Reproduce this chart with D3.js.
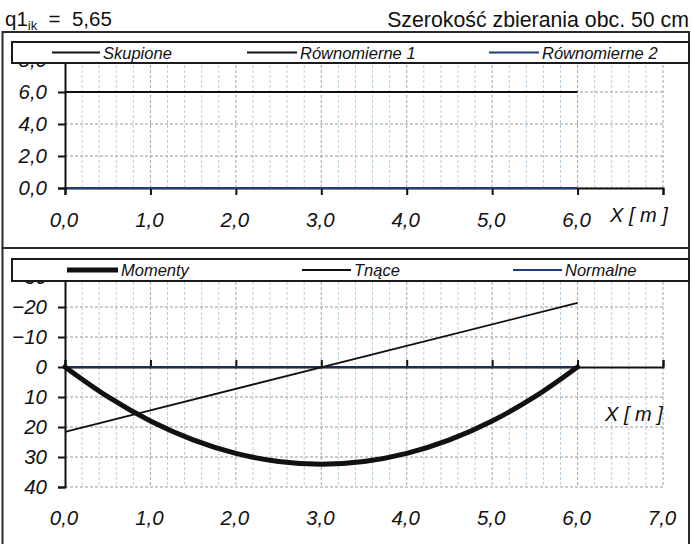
<!DOCTYPE html>
<html>
<head>
<meta charset="utf-8">
<script src="https://cdn.jsdelivr.net/npm/d3@7"></script>
<style>
  html, body { margin: 0; padding: 0; background: #fff; }
  svg { display: block; font-family: "Liberation Sans", Arial, sans-serif; }
</style>
</head>
<body>
<svg id="chart" width="692" height="544"></svg>
<script>
// ---------- DATA ----------
const headerLeftMain = "q1";
const headerLeftSub = "ik";
const headerLeftValue = " = 5,65";
const headerRight = "Szerokość zbierania obc. 50 cm";

const xTickValues = [0, 1, 2, 3, 4, 5, 6, 7];
const xDomain = [0, 7];

// top chart: loads
const loadSeriesNames = ["Skupione", "Równomierne 1", "Równomierne 2"];
const loadX = [0, 6];
const skupione = [0, 0];
const rownomierne1 = [6.0, 6.0];
const rownomierne2 = [0, 0];
const topYTicks = [0, 2, 4, 6, 8];
const topYDomain = [0, 8];

// bottom chart: internal forces
const forceSeriesNames = ["Momenty", "Tnące", "Normalne"];
const beamX = [0, 0.5, 1, 1.5, 2, 2.5, 3, 3.5, 4, 4.5, 5, 5.5, 6];
const momenty = [0, 9.9, 18.0, 24.3, 28.8, 31.5, 32.4, 31.5, 28.8, 24.3, 18.0, 9.9, 0];
const tnaceX = [0, 6];
const tnace = [21.6, -21.4];
const normalneX = [0, 6];
const normalne = [0, 0];
const bottomYTicks = [-30, -20, -10, 0, 10, 20, 30, 40];
const bottomYDomain = [-30, 40];

const axisTitle = "X [ m ]";

// ---------- SETUP ----------
const svg = d3.select("#chart");
const plLocale = d3.formatLocale({decimal: ",", thousands: " ", grouping: [3], currency: ["", " zł"]});
const fmt1 = plLocale.format(".1f");
const fmt0 = plLocale.format("d");
const TICK_FS = 20.5;

const x = d3.scaleLinear().domain(xDomain).range([65, 663]);
const yTop = d3.scaleLinear().domain(topYDomain).range([188, 60]);
const yBot = d3.scaleLinear().domain(bottomYDomain).range([277, 487]);

const minorX = d3.range(0, 7.0001, 0.2).map(v => +v.toFixed(1));

// ---------- HEADER ----------
const hl = svg.append("text").attr("x", 5).attr("y", 26).attr("font-size", 20.5).attr("fill", "#111");
hl.append("tspan").text(headerLeftMain);
hl.append("tspan").attr("font-size", 13).attr("dy", 4).text(headerLeftSub);
hl.append("tspan").attr("dy", -4).attr("xml:space", "preserve").text(headerLeftValue.replace(" = ", "  =  "));
svg.append("text").attr("x", 689).attr("y", 27).attr("text-anchor", "end")
  .attr("font-size", 21.3).attr("fill", "#111").text(headerRight);

// ---------- FRAMES ----------
svg.append("rect").attr("x", 2.5).attr("y", 32).attr("width", 686.5).attr("height", 216)
  .attr("fill", "none").attr("stroke", "#2a2a2a").attr("stroke-width", 2);
svg.append("rect").attr("x", 2.5).attr("y", 248).attr("width", 686.5).attr("height", 320)
  .attr("fill", "none").attr("stroke", "#2a2a2a").attr("stroke-width", 2);

// ---------- helpers ----------
function grid(g, yScale, yTicks, yTopPx, yBotPx) {
  g.selectAll(".vmin").data(minorX.filter(v => v > 0)).join("line")
    .attr("x1", d => x(d)).attr("x2", d => x(d))
    .attr("y1", yTopPx).attr("y2", yBotPx)
    .attr("stroke", d => Number.isInteger(d) ? "#9aa8b2" : "#b8d0e0")
    .attr("stroke-width", 1).attr("stroke-dasharray", "3,2");
  g.selectAll(".hmaj").data(yTicks).join("line")
    .attr("x1", x(0)).attr("x2", x(7))
    .attr("y1", d => yScale(d)).attr("y2", d => yScale(d))
    .attr("stroke", "#999").attr("stroke-width", 1).attr("stroke-dasharray", "3,2");
}

function yAxis(g, yScale, yTicks, f) {
  const ax = d3.axisLeft(yScale).tickValues(yTicks).tickFormat(f).tickSize(7).tickPadding(11);
  g.attr("transform", `translate(${x(0)},0)`).call(ax);
  g.select(".domain").attr("stroke", "#111").attr("stroke-width", 2);
  g.selectAll(".tick line").attr("stroke", "#111").attr("stroke-width", 2);
  g.selectAll(".tick text").attr("font-size", TICK_FS).attr("font-style", "italic")
    .attr("font-family", "Liberation Sans, Arial, sans-serif").attr("fill", "#111");
}

// ---------- TOP CHART ----------
const topG = svg.append("g");
grid(topG, yTop, topYTicks, yTop(8), yTop(0));

const lineTop = (xs, ys) => d3.line().x((d, i) => x(xs[i])).y(d => yTop(d))(ys);

topG.append("path").attr("d", lineTop(loadX, rownomierne1))
  .attr("fill", "none").attr("stroke", "#111").attr("stroke-width", 2);

// x axis (bottom, ticks outward)
const topXAxis = topG.append("g").attr("transform", `translate(0,${yTop(0)})`)
  .call(d3.axisBottom(x).tickValues(xTickValues).tickFormat("").tickSize(7));
topXAxis.select(".domain").attr("stroke", "#111").attr("stroke-width", 2);
topXAxis.selectAll(".tick line").attr("stroke", "#111").attr("stroke-width", 2);

topG.append("path").attr("d", lineTop(loadX, skupione))
  .attr("fill", "none").attr("stroke", "#111").attr("stroke-width", 2);
topG.append("path").attr("d", lineTop(loadX, rownomierne2))
  .attr("fill", "none").attr("stroke", "#1d3f78").attr("stroke-width", 2);

topG.selectAll(".xl").data(xTickValues.filter(v => v <= 6)).join("text")
  .attr("x", d => x(d) - 1).attr("y", 227).attr("text-anchor", "middle")
  .attr("font-size", TICK_FS).attr("font-style", "italic").attr("fill", "#111")
  .text(d => fmt1(d));
topG.append("text").attr("x", 610).attr("y", 222).attr("font-size", 20)
  .attr("font-style", "italic").attr("fill", "#111").attr("xml:space", "preserve").text(axisTitle);

yAxis(topG.append("g"), yTop, topYTicks, fmt1);

// ---------- BOTTOM CHART ----------
const botG = svg.append("g");
grid(botG, yBot, bottomYTicks.filter(v => v !== 0), yBot(-30), yBot(40));

// x axis at zero, ticks upward
const botXAxis = botG.append("g").attr("transform", `translate(0,${yBot(0)})`)
  .call(d3.axisTop(x).tickValues(xTickValues).tickFormat("").tickSize(7));
botXAxis.select(".domain").attr("stroke", "#111").attr("stroke-width", 2);
botXAxis.selectAll(".tick line").attr("stroke", "#111").attr("stroke-width", 2);

const lineBot = (xs, ys, curve) => d3.line().x((d, i) => x(xs[i])).y(d => yBot(d)).curve(curve || d3.curveLinear)(ys);

botG.append("path").attr("d", lineBot(normalneX, normalne))
  .attr("fill", "none").attr("stroke", "#1d2f50").attr("stroke-width", 2);
botG.append("path").attr("d", lineBot(tnaceX, tnace))
  .attr("fill", "none").attr("stroke", "#111").attr("stroke-width", 1.8);
botG.append("path").attr("d", lineBot(beamX, momenty, d3.curveMonotoneX))
  .attr("fill", "none").attr("stroke", "#111").attr("stroke-width", 5).attr("stroke-linecap", "round");

yAxis(botG.append("g"), yBot, bottomYTicks, fmt0);

botG.selectAll(".xl").data(xTickValues).join("text")
  .attr("x", d => x(d) - 1).attr("y", 525).attr("text-anchor", "middle")
  .attr("font-size", TICK_FS).attr("font-style", "italic").attr("fill", "#111")
  .text(d => fmt1(d));
botG.append("text").attr("x", 605).attr("y", 421).attr("font-size", 20)
  .attr("font-style", "italic").attr("fill", "#111").attr("xml:space", "preserve").text(axisTitle);

// ---------- LEGENDS ----------
function legend(y0, h, items) {
  const g = svg.append("g");
  g.append("rect").attr("x", 12).attr("y", y0).attr("width", 677).attr("height", h)
    .attr("fill", "#fff").attr("stroke", "#1a1a1a").attr("stroke-width", 2);
  const cy = y0 + h / 2;
  items.forEach(it => {
    g.append("line").attr("x1", it.x1).attr("x2", it.x2).attr("y1", cy).attr("y2", cy)
      .attr("stroke", it.color).attr("stroke-width", it.w);
    g.append("text").attr("x", it.x2 + 3).attr("y", cy + 6).attr("font-size", 16.5)
      .attr("font-style", "italic").attr("fill", "#111").text(it.name);
  });
}
legend(42, 21, [
  {name: loadSeriesNames[0], x1: 52, x2: 100, color: "#111", w: 2},
  {name: loadSeriesNames[1], x1: 247, x2: 297, color: "#111", w: 2},
  {name: loadSeriesNames[2], x1: 489, x2: 539, color: "#1d3f78", w: 2}
]);
legend(259, 22, [
  {name: forceSeriesNames[0], x1: 67, x2: 118, color: "#111", w: 5},
  {name: forceSeriesNames[1], x1: 302, x2: 351, color: "#111", w: 2},
  {name: forceSeriesNames[2], x1: 513, x2: 562, color: "#1d3f78", w: 2}
]);
</script>
</body>
</html>
